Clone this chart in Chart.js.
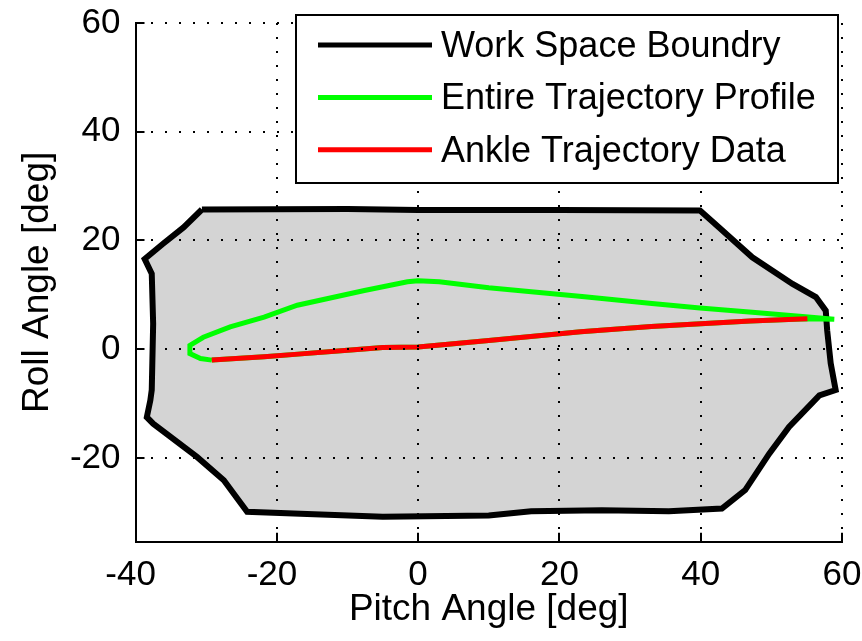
<!DOCTYPE html>
<html lang="en">
<head>
  <meta charset="UTF-8" />
  <title>Work Space Boundry</title>
  <script src="https://cdn.jsdelivr.net/npm/chart.js"></script>
  <style>
    body {
      margin: 0;
      background-color: white;
    }
    #wrap {
      width: 862px;
      height: 641px;
    }
  </style>
</head>
<body>
  <div id="wrap">
    <canvas id="chart" width="862" height="641"></canvas>
  </div>

  <script>
    // work space boundary (pitch, roll) in degrees
    const boundaryX = [-30.6, -10, 0, 20, 39.9, 42.6, 47.3, 53.0, 56.3, 57.7, 57.9, 58.4, 59.1, 56.8, 52.5, 49.7, 46.3, 43.0, 35.5, 26.0, 16.0, 10.0, -5.0, -15.7, -24.2, -27.5, -31.3, -37.5, -38.4, -37.9, -37.7, -37.5, -37.7, -38.7, -36.1, -33.2, -30.6];
    const boundaryY = [25.7, 25.8, 25.6, 25.6, 25.5, 22.4, 16.9, 12.0, 9.6, 7.1, 3.5, -2.6, -7.5, -8.5, -14.3, -19.2, -25.9, -29.3, -29.8, -29.6, -29.8, -30.6, -30.8, -30.3, -29.9, -24.1, -19.8, -13.7, -12.5, -9.4, -7.5, 4.7, 13.9, 16.6, 19.4, 22.4, 25.7];

    // entire trajectory profile
    const profileX = [-29.2, -21.8, -17, -10, -5, 0, 10, 23, 33, 40, 47, 55.1, 58.9, 54.4, 47.3, 39.9, 33.1, 23.2, 10, 3, 0, -1.5, -7.6, -17.1, -21.8, -26.6, -30.4, -32.3, -32.3, -30.8, -29.2];
    const profileY = [-2.0, -1.4, -0.9, -0.2, 0.3, 0.4, 1.6, 3.2, 4.2, 4.7, 5.2, 5.6, 5.5, 6.0, 6.8, 7.6, 8.4, 9.7, 11.3, 12.4, 12.6, 12.4, 10.8, 8.1, 5.9, 4.1, 2.2, 0.7, -0.8, -1.7, -2.0];

    // ankle trajectory data
    const ankleX = [-29.2, -21.8, -17, -10, -5, 0, 10, 23, 33, 40, 47, 55.1];
    const ankleY = [-2.0, -1.4, -0.9, -0.2, 0.3, 0.4, 1.6, 3.2, 4.2, 4.7, 5.2, 5.6];

    const xTicks = [-40, -20, 0, 20, 40, 60];
    const yTicks = [-20, 0, 20, 40, 60];

    const FONT = '"Liberation Sans", Arial, sans-serif';

    function pts(xs, ys) {
      return xs.map((x, i) => ({ x: x, y: ys[i] }));
    }

    // inward tick marks + boxed legend like matlab
    const matlabBits = {
      id: 'matlabBits',
      afterDraw(chart) {
        const ctx = chart.ctx;
        const ca = chart.chartArea;
        const xs = chart.scales.x, ys = chart.scales.y;
        ctx.save();
        ctx.strokeStyle = 'black';
        ctx.lineWidth = 2;
        ctx.beginPath();
        xTicks.forEach(v => {
          const px = Math.round(xs.getPixelForValue(v));
          ctx.moveTo(px, ca.bottom);
          ctx.lineTo(px, ca.bottom - 9);
        });
        yTicks.forEach(v => {
          const py = Math.round(ys.getPixelForValue(v));
          ctx.moveTo(ca.left, py);
          ctx.lineTo(ca.left + 9, py);
        });
        ctx.stroke();

        // legend
        const w = 542, h = 168;
        const x0 = ca.right - w - 4, y0 = ca.top - 8;
        ctx.fillStyle = 'white';
        ctx.fillRect(x0, y0, w, h);
        ctx.strokeRect(x0, y0, w, h);
        ctx.font = '36px ' + FONT;
        ctx.textBaseline = 'middle';
        ctx.textAlign = 'left';
        chart.data.datasets.forEach((ds, i) => {
          const ly = y0 + 30 + i * 52.4;
          ctx.strokeStyle = ds.borderColor;
          ctx.lineWidth = 5;
          ctx.beginPath();
          ctx.moveTo(x0 + 22, ly);
          ctx.lineTo(x0 + 136, ly);
          ctx.stroke();
          ctx.fillStyle = 'black';
          ctx.fillText(ds.label, x0 + 145, ly + 2);
        });
        ctx.restore();
      }
    };

    new Chart(document.getElementById('chart'), {
      type: 'scatter',
      data: {
        datasets: [
          {
            label: 'Work Space Boundry',
            data: pts(boundaryX, boundaryY),
            showLine: true,
            borderColor: 'black',
            borderWidth: 6,
            backgroundColor: '#d4d4d4',
            fill: 'shape',
            pointRadius: 0,
            order: 3
          },
          {
            label: 'Entire Trajectory Profile',
            data: pts(profileX, profileY),
            showLine: true,
            borderColor: '#00ff00',
            borderWidth: 5,
            pointRadius: 0,
            fill: false,
            order: 2
          },
          {
            label: 'Ankle Trajectory Data',
            data: pts(ankleX, ankleY),
            showLine: true,
            borderColor: '#ff0000',
            borderWidth: 5,
            pointRadius: 0,
            fill: false,
            order: 1
          }
        ]
      },
      options: {
        responsive: false,
        animation: false,
        events: [],
        layout: { padding: 0 },
        plugins: {
          legend: { display: false },
          tooltip: { enabled: false }
        },
        scales: {
          x: {
            type: 'linear',
            min: -40,
            max: 60,
            z: 1,
            afterBuildTicks: s => { s.ticks = xTicks.map(v => ({ value: v })); },
            afterFit: s => {
              s.height = 99.3;
              s.paddingLeft = 0;
              s.paddingRight = 20;
            },
            ticks: {
              color: 'black',
              padding: 13,
              maxRotation: 0,
              font: { family: FONT, size: 35 },
              callback: v => v < 0 ? v + ' ' : '' + v
            },
            grid: {
              color: 'black',
              lineWidth: 2,
              drawTicks: false,
              z: 1
            },
            border: { display: true, color: 'black', width: 2, dash: [2, 12], z: 1 },
            title: {
              display: true,
              text: 'Pitch Angle [deg]',
              color: 'black',
              font: { family: FONT, size: 37, lineHeight: 1 },
              padding: { top: 0, bottom: 12.5 }
            }
          },
          y: {
            type: 'linear',
            min: -35.4,
            max: 60,
            z: 1,
            afterBuildTicks: s => { s.ticks = yTicks.map(v => ({ value: v })); },
            afterFit: s => {
              s.width = 135.5;
              s.paddingTop = 23;
              s.paddingBottom = 0;
            },
            ticks: {
              color: 'black',
              padding: 15,
              font: { family: FONT, size: 35 }
            },
            grid: {
              color: 'black',
              lineWidth: 2,
              drawTicks: false,
              z: 1
            },
            border: { display: true, color: 'black', width: 2, dash: [2, 12], z: 1 },
            title: {
              display: true,
              text: 'Roll Angle [deg]',
              color: 'black',
              font: { family: FONT, size: 37, lineHeight: 1 },
              padding: { top: 19, bottom: 0 }
            }
          }
        }
      },
      plugins: [matlabBits]
    });
  </script>
</body>
</html>
